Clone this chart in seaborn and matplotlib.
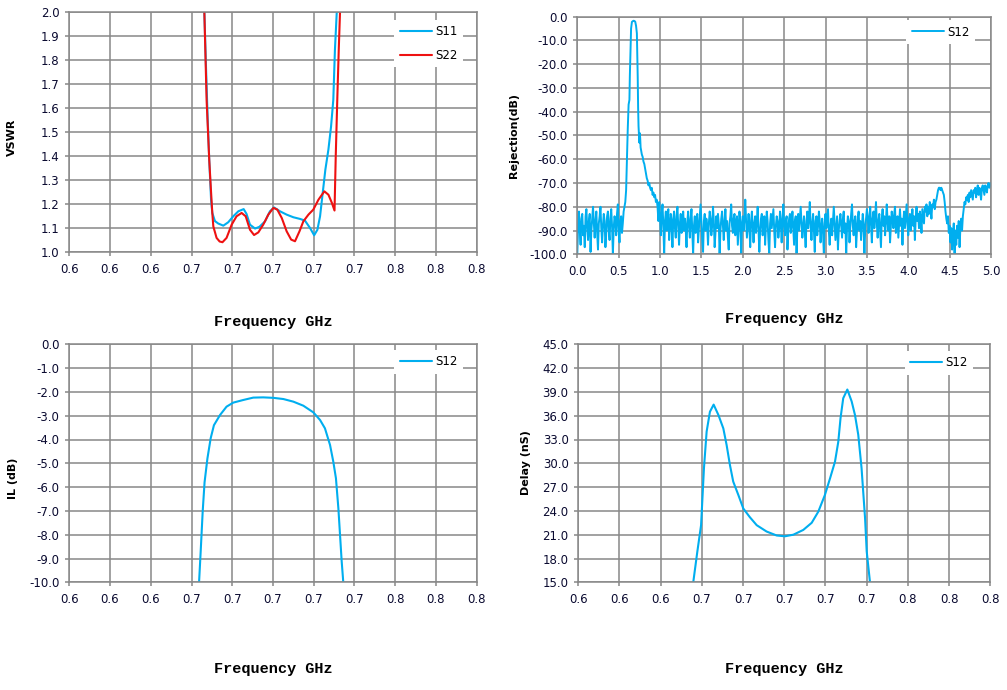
import numpy as np
import matplotlib
matplotlib.use('Agg')
import matplotlib.pyplot as plt
import seaborn as sns

sns.set_theme(style='white')
plt.rcParams['font.family'] = ['DejaVu Sans']

BLUE = '#00AEEF'
RED = '#EE1111'
GRID = '#888888'
TICKC = '#0a0a30'

# ---------------- data ----------------
# VSWR
s11_f = [0.6655, 0.6663, 0.6671, 0.6679, 0.6687, 0.6696, 0.6702, 0.6715, 0.6731, 0.6756,
         0.6780, 0.6805, 0.6830, 0.6856, 0.6870, 0.6887, 0.6912, 0.6933, 0.6961, 0.6985,
         0.7005, 0.7034, 0.7067, 0.7100, 0.7133, 0.7157, 0.7182, 0.7202, 0.7218, 0.7231,
         0.7244, 0.7257, 0.7272, 0.7285, 0.7296, 0.7304, 0.7313, 0.7320]
s11_v = [2.15, 2.00, 1.774, 1.565, 1.385, 1.218, 1.164, 1.13, 1.12, 1.111,
         1.125, 1.15, 1.171, 1.18, 1.16, 1.115, 1.099, 1.106, 1.129, 1.171,
         1.187, 1.171, 1.157, 1.146, 1.139, 1.132, 1.101, 1.071, 1.094, 1.15,
         1.247, 1.344, 1.428, 1.524, 1.635, 1.843, 2.00, 2.15]
s22_f = [0.6655, 0.6663, 0.6674, 0.6687, 0.6696, 0.6702, 0.6707, 0.6723, 0.6738, 0.6752,
         0.6772, 0.6797, 0.6821, 0.6846, 0.6866, 0.6887, 0.6907, 0.6928, 0.6952, 0.6977,
         0.7002, 0.7021, 0.7043, 0.7067, 0.7089, 0.7108, 0.7130, 0.7149, 0.7174, 0.7198,
         0.7223, 0.7252, 0.7272, 0.7289, 0.7302, 0.7308, 0.7316, 0.7323, 0.7329, 0.7335]
s22_v = [2.15, 2.00, 1.635, 1.385, 1.25, 1.164, 1.108, 1.06, 1.045, 1.042,
         1.06, 1.115, 1.15, 1.164, 1.15, 1.094, 1.072, 1.083, 1.115, 1.157,
         1.185, 1.178, 1.143, 1.0875, 1.053, 1.046, 1.0875, 1.129, 1.157, 1.178,
         1.219, 1.254, 1.24, 1.206, 1.174, 1.40, 1.65, 1.85, 2.00, 2.15]

# Insertion loss
il_f = [0.6630, 0.6637, 0.6645, 0.6655, 0.6664, 0.6678, 0.6694, 0.6710, 0.6740, 0.6772,
        0.6805, 0.6854, 0.6903, 0.6952, 0.7002, 0.7051, 0.7100, 0.7149, 0.7198, 0.7231,
        0.7255, 0.7280, 0.7296, 0.7309, 0.7321, 0.7329, 0.7337, 0.7345, 0.7350]
il_db = [-11, -10, -8.7, -7.0, -5.8, -4.8, -3.95, -3.4, -2.97, -2.62,
         -2.45, -2.34, -2.24, -2.23, -2.25, -2.3, -2.41, -2.58, -2.86, -3.18,
         -3.53, -4.23, -4.93, -5.63, -6.9, -8.0, -9.1, -10, -11]

# Group delay
dl_f = [0.6553, 0.6558, 0.6578, 0.6596, 0.6610, 0.6623, 0.6639, 0.6657, 0.6680, 0.6704,
        0.6720, 0.6736, 0.6752, 0.6777, 0.6801, 0.6833, 0.6866, 0.6914, 0.6963, 0.7003,
        0.7044, 0.7092, 0.7133, 0.7165, 0.7197, 0.7222, 0.7246, 0.7262, 0.7273, 0.7286,
        0.7306, 0.7327, 0.7343, 0.7359, 0.7375, 0.7392, 0.7400, 0.7416, 0.7420]
dl_ns = [14, 15, 18.9, 22.2, 29.4, 34.0, 36.5, 37.4, 36.1, 34.4,
         32.3, 29.8, 27.7, 26.0, 24.3, 23.2, 22.2, 21.4, 20.9, 20.8,
         21.0, 21.6, 22.5, 23.9, 26.0, 28.1, 30.2, 32.7, 35.7, 38.2,
         39.3, 37.8, 36.1, 33.6, 29.4, 23.1, 18.9, 15, 14]

# Wide-band rejection (S12), read segment by segment (dB)
rej_a = [-100, -88, -82, -90, -96, -85, -83, -92, -88, -97,
         -84, -81, -89, -94, -86, -83, -99, -90, -85, -80,
         -87, -93, -86, -82, -91, -98, -87, -84, -80, -89,
         -95, -88, -83, -86, -97, -91, -84, -82, -90, -94,
         -85, -81, -88, -100, -89, -84, -86, -92, -83, -79,
         -90, -95, -86, -84, -91, -87, -82]
rej_lobe_f = [0.57, 0.58, 0.59, 0.60, 0.61, 0.62, 0.63, 0.635, 0.64, 0.645,
              0.65, 0.66, 0.67, 0.68, 0.69, 0.70, 0.71, 0.715, 0.72, 0.725,
              0.73, 0.735, 0.74, 0.745, 0.75, 0.755, 0.76, 0.765, 0.77, 0.78,
              0.79, 0.80, 0.81, 0.82, 0.83, 0.84, 0.85, 0.86, 0.87, 0.88,
              0.89, 0.90, 0.91, 0.92, 0.93, 0.94, 0.95, 0.96]
rej_lobe_db = [-80, -78, -73, -60, -47, -37, -35, -25, -18, -10,
               -5, -2.2, -1.9, -1.7, -1.8, -2.1, -3.8, -5.5, -7, -15,
               -25, -38, -46, -50, -53, -49, -51, -55, -56, -58,
               -59, -61, -62, -64, -66, -68, -69, -71, -70, -72,
               -73, -72, -75, -74, -76, -75, -78, -77]
rej_b = [-80, -86, -78, -84, -92, -83, -79, -88, -100, -86,
         -82, -90, -85, -81, -94, -89, -83, -87, -97, -85,
         -82, -89, -93, -84, -80, -88, -96, -87, -83, -91,
         -86, -82, -90, -85]
rej_c = [-89, -97, -86, -82, -88, -93, -85, -81, -90, -100,
         -88, -84, -91, -86, -83, -95, -89, -84, -79, -87,
         -94, -99, -86, -83, -90, -85, -88, -96, -87, -82,
         -85, -92, -88, -80, -86, -97, -91, -84, -89, -83,
         -87, -100, -90, -85, -82, -88, -94, -86, -81, -90,
         -86, -93, -98, -87, -84, -79, -88, -91, -85, -83,
         -92, -87, -84, -96, -89, -82, -86, -100, -88, -84,
         -90, -85, -77, -86, -93, -88, -83, -89, -97, -86,
         -82, -88, -95, -87, -84, -91, -86, -80, -89, -99,
         -90, -85, -83, -92, -87, -84, -96, -88, -82, -86,
         -94, -100, -87, -83, -89, -85, -81, -90, -97, -88,
         -84, -86, -93, -89, -82, -87, -95, -85, -79, -88,
         -92, -86, -84, -98, -90, -85, -83, -91, -87, -82,
         -89, -96, -86, -84, -100, -88, -83, -90, -85, -80,
         -87, -93, -88, -84, -91, -97, -86, -82, -89, -85,
         -78, -88, -94, -87, -83, -90, -99, -86, -84, -92,
         -88, -82, -86, -95, -89, -85, -91, -100, -87, -83,
         -89, -84, -81, -90, -96, -88, -85, -92, -86, -80,
         -87, -94, -89, -84, -98, -90, -86, -83, -88, -93,
         -85, -82, -91, -87, -100, -89, -84, -86, -95, -88,
         -83, -79, -88, -92, -86, -84, -97, -90, -85, -82,
         -90, -86, -94, -88, -83, -87, -100, -89, -85, -81]
rej_d = [-84, -91, -86, -80, -88, -95, -85, -82, -89, -84,
         -78, -87, -93, -86, -83, -90, -97, -85, -81, -88,
         -84, -92, -87, -79, -86, -90, -84, -95, -88, -82,
         -85, -89, -83, -80, -91, -86, -84, -93, -87, -81,
         -88, -85, -96, -86, -82, -89, -84, -79, -87, -92,
         -85, -83, -90, -86, -81, -88, -84, -94, -85, -80,
         -86, -83, -89, -82, -85, -91, -81, -84, -87, -80]
rej_e = [-82, -79, -84, -80, -83, -78, -81, -85, -79, -80, -77, -81, -78, -77]
rej_f = [-75, -73, -72, -72, -73, -72, -73, -74, -75, -78, -82, -85]
rej_g = [-87, -84, -91, -88, -95, -89, -98, -92, -87, -100,
         -90, -96, -88, -93, -86, -97, -89, -85, -90, -84]
rej_h = [-81, -78, -79, -76, -77, -75, -78, -74, -76, -73,
         -75, -77, -73, -74, -72, -76, -73, -71, -75, -72,
         -74, -77, -72, -71, -73, -75, -71, -72, -74, -71,
         -70, -72, -71, -70]
rej_noise_segments = [((0.00, 0.56), rej_a), ((0.97, 1.30), rej_b), ((1.31, 3.50), rej_c),
                      ((3.51, 4.20), rej_d), ((4.21, 4.34), rej_e), ((4.35, 4.46), rej_f),
                      ((4.47, 4.66), rej_g), ((4.67, 5.00), rej_h)]

fine_xticks = [0.60, 0.62, 0.64, 0.66, 0.68, 0.70, 0.72, 0.74, 0.76, 0.78, 0.80]
fine_xlabels = ['0.6', '0.6', '0.6', '0.7', '0.7', '0.7', '0.7', '0.7', '0.8', '0.8', '0.8']
wide_xticks = [0.0, 0.5, 1.0, 1.5, 2.0, 2.5, 3.0, 3.5, 4.0, 4.5, 5.0]
wide_xlabels = ['0.0', '0.5', '1.0', '1.5', '2.0', '2.5', '3.0', '3.5', '4.0', '4.5', '5.0']
vswr_yticks = [1.0, 1.1, 1.2, 1.3, 1.4, 1.5, 1.6, 1.7, 1.8, 1.9, 2.0]
rej_yticks = [-100, -90, -80, -70, -60, -50, -40, -30, -20, -10, 0]
il_yticks = [-10, -9, -8, -7, -6, -5, -4, -3, -2, -1, 0]
dl_yticks = [15, 18, 21, 24, 27, 30, 33, 36, 39, 42, 45]

# build the rejection trace
rf, rv = [], []
for (a, b), vals in rej_noise_segments[:1]:
    rf += list(np.linspace(a, b, len(vals))); rv += vals
rf += rej_lobe_f; rv += rej_lobe_db
for (a, b), vals in rej_noise_segments[1:]:
    rf += list(np.linspace(a, b, len(vals))); rv += vals

# ---------------- figure ----------------
W, H = 1007, 690
fig = plt.figure(figsize=(W / 100, H / 100), dpi=100)
fig.patch.set_facecolor('white')


def add_axes(l, t, r, b):
    return fig.add_axes([l / W, 1 - b / H, (r - l) / W, (b - t) / H])


ax1 = add_axes(69.3, 12.3, 476.7, 252.3)
ax2 = add_axes(577.3, 16.7, 991.0, 254.3)
ax3 = add_axes(69.3, 344.3, 476.7, 582.3)
ax4 = add_axes(578.3, 344.3, 990.3, 582.3)

LW = 1.5
sns.lineplot(x=s11_f, y=s11_v, ax=ax1, color=BLUE, lw=LW, label='S11', sort=False, estimator=None)
sns.lineplot(x=s22_f, y=s22_v, ax=ax1, color=RED, lw=LW, label='S22', sort=False, estimator=None)
sns.lineplot(x=rf, y=rv, ax=ax2, color=BLUE, lw=1.4, label='S12', sort=False, estimator=None)
sns.lineplot(x=il_f, y=il_db, ax=ax3, color=BLUE, lw=LW, label='S12', sort=False, estimator=None)
sns.lineplot(x=dl_f, y=dl_ns, ax=ax4, color=BLUE, lw=LW, label='S12', sort=False, estimator=None)


def style(ax, xt, xl, yt, ylabel, ylab_xy, xlab_y, leg_xy):
    ax.set_facecolor('white')
    ax.set_xlim(min(xt), max(xt))
    ax.set_ylim(min(yt), max(yt))
    ax.set_xticks(xt)
    ax.set_xticklabels(xl)
    ax.set_yticks(yt)
    ax.set_yticklabels(['%.1f' % v for v in yt])
    ax.grid(True, color=GRID, lw=1.1)
    ax.set_axisbelow(True)
    for s in ax.spines.values():
        s.set_visible(True)
        s.set_color(GRID)
        s.set_linewidth(1.1)
    ax.tick_params(axis='both', direction='out', length=3, width=1.1, color=GRID,
                   labelcolor=TICKC, labelsize=8.5)
    ax.tick_params(axis='x', pad=5, bottom=True)
    ax.tick_params(axis='y', pad=4, left=True)
    ax.set_xlabel('Frequency GHz', fontfamily='Liberation Mono', fontweight='bold',
                  fontsize=11, color='black')
    ax.xaxis.set_label_coords(0.5, xlab_y)
    ax.xaxis.label.set_va('center')
    ax.set_ylabel(ylabel, fontweight='bold', fontsize=8, color='black')
    ax.yaxis.set_label_coords(*ylab_xy)
    ax.yaxis.label.set_va('center')
    leg = ax.legend(loc='upper right', bbox_to_anchor=leg_xy, borderaxespad=0,
                    frameon=True, fancybox=False, framealpha=1, edgecolor='white',
                    facecolor='white', fontsize=8.5, handlelength=2.7,
                    handletextpad=0.3, labelspacing=0.9, borderpad=0.45)
    leg.get_frame().set_linewidth(0)
    for t in leg.get_texts():
        t.set_color('black')


style(ax1, fine_xticks, fine_xlabels, vswr_yticks, 'VSWR', (-0.141, 0.48), -0.29, (0.966, 0.968))
style(ax2, wide_xticks, wide_xlabels, rej_yticks, 'Rejection(dB)', (-0.153, 0.502), -0.272, (0.961, 0.985))
style(ax3, fine_xticks, fine_xlabels, il_yticks, 'IL (dB)', (-0.139, 0.437), -0.364, (0.966, 0.976))
style(ax4, fine_xticks, fine_xlabels, dl_yticks, 'Delay (nS)', (-0.127, 0.505), -0.364, (0.958, 0.972))

fig.savefig('out.png', dpi=100, facecolor='white')
